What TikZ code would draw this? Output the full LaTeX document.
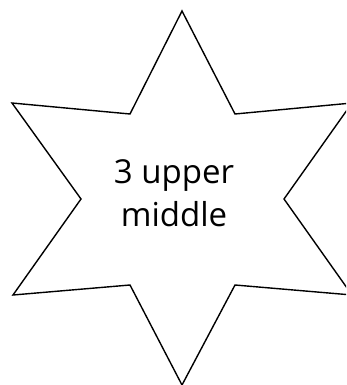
\documentclass[tikz,border=0pt]{standalone}
\usepackage{fontspec}
\setmainfont{Open Sans}
\begin{document}
\begin{tikzpicture}[x=1pt,y=-1pt,
  starline/.style={draw=black,line width=1.4pt,line join=miter},
  lbl/.style={align=center,font=\fontsize{33}{43}\selectfont,inner sep=0pt}]
\useasboundingbox (0,0) rectangle (346,385);
\begin{scope}
\clip (0,0) rectangle (346,385);
\draw[starline] (182,11) -- (235,114) -- (352,103) -- (284,199) -- (352,295) -- (235,285)
  -- (182,385) -- (130,285) -- (13,295) -- (81,199) -- (12,103) -- (130,114) -- cycle;
\end{scope}
\node[lbl] (t) at (174,193) {3 upper\\middle};
\end{tikzpicture}
\end{document}
